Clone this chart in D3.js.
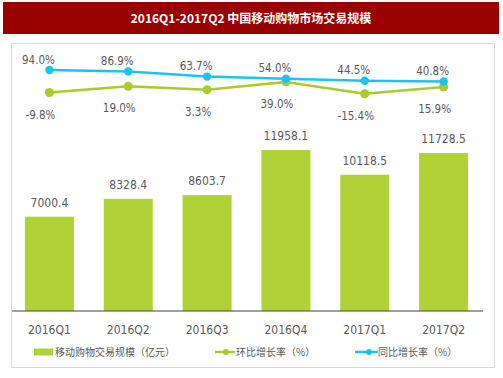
<!DOCTYPE html>
<html><head><meta charset="utf-8">
<script src="https://cdn.jsdelivr.net/npm/d3@7"></script>
<style>
html,body{margin:0;padding:0;background:#fff;}
svg{display:block;}
</style></head>
<body>
<script>
const title = "2016Q1-2017Q2 中国移动购物市场交易规模";
const categories = ["2016Q1","2016Q2","2016Q3","2016Q4","2017Q1","2017Q2"];
const volume = [7000.4, 8328.4, 8603.7, 11958.1, 10118.5, 11728.5];
const qoq = [-9.8, 19.0, 3.3, 39.0, -15.4, 15.9];
const yoy = [94.0, 86.9, 63.7, 54.0, 44.5, 40.8];
const seriesNames = ["移动购物交易规模（亿元）", "环比增长率（%）", "同比增长率（%）"];

const W = 503, H = 378;
const cBar = "#b1d236", cGreen = "#a9cb2c", cBlue = "#1cc3f2";
const numFont = "'Liberation Sans Narrow','DejaVu Sans Condensed','Liberation Sans',sans-serif";
const cjkFont = "'Noto Sans CJK SC','Noto Sans',sans-serif";

const svg = d3.select("body").append("svg").attr("width", W).attr("height", H);

// title banner
svg.append("rect").attr("x", 3).attr("y", 2).attr("width", 496).attr("height", 32).attr("fill", "#990000");
svg.append("text").attr("x", 251).attr("y", 22.5).attr("text-anchor", "middle")
  .attr("fill", "#fff").attr("font-family", cjkFont).attr("font-weight", "bold").attr("font-size", 12)
  .text(title);

// panel
svg.append("rect").attr("x", 11.5).attr("y", 43.5).attr("width", 483).attr("height", 324)
  .attr("fill", "#fff").attr("stroke", "#d9d9d9").attr("stroke-width", 1);

const x = d3.scaleBand().domain(categories).range([10, 483]).paddingInner(0.378).paddingOuter(0.189);
const yBar = d3.scaleLinear().domain([0, 14000]).range([311, 311 - 14000 * 0.01347]);
const yPct = d3.scaleLinear().domain([0, 94]).range([90.4, 70]);
const cx = c => x(c) + x.bandwidth() / 2;

// bars
svg.append("g").selectAll("rect").data(categories).join("rect")
  .attr("x", c => x(c)).attr("width", x.bandwidth())
  .attr("y", (c, i) => yBar(volume[i])).attr("height", (c, i) => yBar(0) - yBar(volume[i]))
  .attr("fill", cBar);

svg.append("g").selectAll("text").data(categories).join("text")
  .attr("x", c => cx(c)).attr("y", (c, i) => yBar(volume[i]) - 10)
  .attr("text-anchor", "middle").attr("font-family", numFont).attr("font-size", 12).attr("fill", "#595959")
  .text((c, i) => volume[i].toFixed(1));

// axis
const axis = d3.axisBottom(x).tickSize(0).tickPadding(14);
const ag = svg.append("g").attr("transform", `translate(0,${yBar(0)})`).call(axis);
ag.select(".domain").attr("stroke", "#404040").attr("stroke-width", 1.2).attr("d", "M12,0H483");
ag.selectAll("text").attr("font-family", numFont).attr("font-size", 12).attr("fill", "#595959");

// lines
function drawLine(vals, color, r) {
  const line = d3.line().x((v, i) => cx(categories[i])).y(v => yPct(v));
  svg.append("path").datum(vals).attr("d", line).attr("fill", "none").attr("stroke", color).attr("stroke-width", 2.5);
  svg.append("g").selectAll("circle").data(vals).join("circle")
    .attr("cx", (v, i) => cx(categories[i])).attr("cy", v => yPct(v)).attr("r", r).attr("fill", color);
}
drawLine(qoq, cGreen, 4.5);
drawLine(yoy, cBlue, 4.2);

const fmtPct = v => v.toFixed(1) + "%";
svg.append("g").selectAll("text").data(yoy).join("text")
  .attr("x", (v, i) => cx(categories[i]) - 11).attr("y", v => yPct(v) - 6.5)
  .attr("text-anchor", "middle").attr("font-family", numFont).attr("font-size", 11.5).attr("fill", "#595959")
  .text(fmtPct);
svg.append("g").selectAll("text").data(qoq).join("text")
  .attr("x", (v, i) => cx(categories[i]) - 9).attr("y", v => yPct(v) + 26)
  .attr("text-anchor", "middle").attr("font-family", numFont).attr("font-size", 11.5).attr("fill", "#595959")
  .text(fmtPct);

// legend
const lg = svg.append("g").attr("font-family", cjkFont).attr("font-size", 10).attr("fill", "#595959");
lg.append("rect").attr("x", 34).attr("y", 348.5).attr("width", 19).attr("height", 7).attr("fill", cBar);
lg.append("text").attr("x", 55).attr("y", 355.5).text(seriesNames[0]);
lg.append("line").attr("x1", 215).attr("x2", 235).attr("y1", 352).attr("y2", 352).attr("stroke", cGreen).attr("stroke-width", 2.5);
lg.append("circle").attr("cx", 226).attr("cy", 352).attr("r", 3).attr("fill", cGreen);
lg.append("text").attr("x", 236).attr("y", 355.5).text(seriesNames[1]);
lg.append("line").attr("x1", 355).attr("x2", 378).attr("y1", 352).attr("y2", 352).attr("stroke", cBlue).attr("stroke-width", 2.5);
lg.append("circle").attr("cx", 369).attr("cy", 352).attr("r", 3).attr("fill", cBlue);
lg.append("text").attr("x", 378).attr("y", 355.5).text(seriesNames[2]);
</script>
</body></html>
